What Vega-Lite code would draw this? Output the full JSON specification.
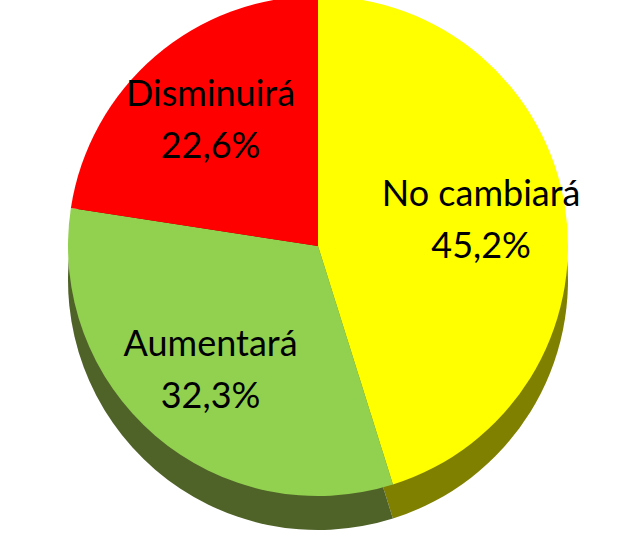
{
  "$schema": "https://vega.github.io/schema/vega-lite/v6.json",
  "width": 636,
  "height": 544,
  "autosize": {"type": "fit", "contains": "padding"},
  "padding": {"top": 0, "bottom": 40, "left": 0, "right": 0},
  "background": "white",
  "view": {"stroke": null},
  "data": {
    "values": [
      {"cat": "No cambiará", "pct": "45,2%", "value": 45.2, "order": 1},
      {"cat": "Aumentará", "pct": "32,3%", "value": 32.3, "order": 2},
      {"cat": "Disminuirá", "pct": "22,6%", "value": 22.6, "order": 3}
    ]
  },
  "encoding": {
    "theta": {"field": "value", "type": "quantitative", "stack": true},
    "order": {"field": "order", "type": "quantitative"}
  },
  "resolve": {"scale": {"color": "independent"}},
  "layer": [
    {
      "mark": {"type": "arc", "outerRadius": 250, "yOffset": 34},
      "encoding": {
        "color": {
          "field": "cat", "type": "nominal", "legend": null,
          "scale": {"domain": ["No cambiará", "Aumentará", "Disminuirá"], "range": ["#7F7F00", "#4F6228", "#7F0000"]}
        }
      }
    },
    {
      "mark": {"type": "arc", "outerRadius": 250},
      "encoding": {
        "color": {
          "field": "cat", "type": "nominal", "legend": null,
          "scale": {"domain": ["No cambiará", "Aumentará", "Disminuirá"], "range": ["#FFFF00", "#92D050", "#FF0000"]}
        }
      }
    },
    {
      "mark": {"type": "text", "radius": 165, "dy": -26, "fontSize": 36, "font": "Lato", "color": "black"},
      "encoding": {"text": {"field": "cat"}}
    },
    {
      "mark": {"type": "text", "radius": 165, "dy": 26, "fontSize": 36, "font": "Lato", "color": "black"},
      "encoding": {"text": {"field": "pct"}}
    }
  ]
}
